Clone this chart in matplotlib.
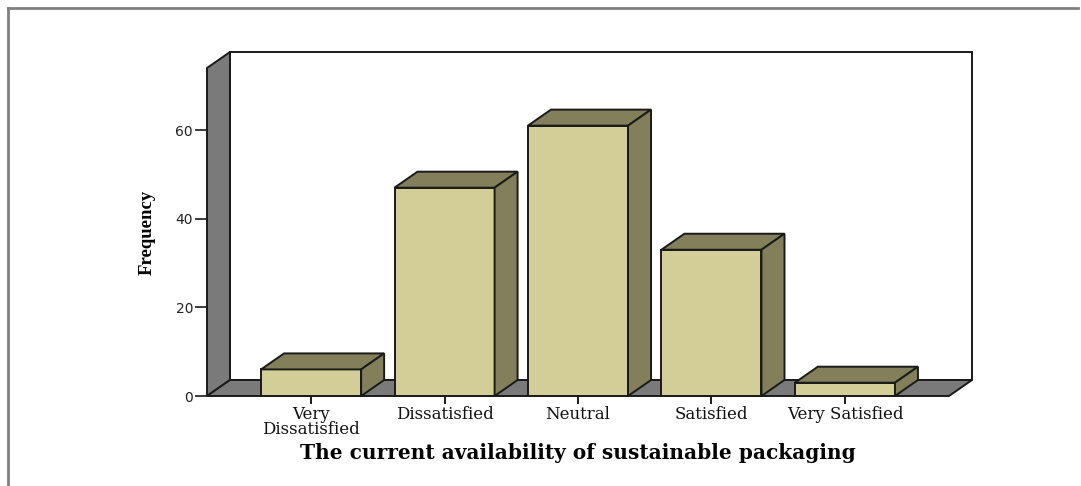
import matplotlib
matplotlib.use("Agg")
import matplotlib.pyplot as plt
from matplotlib.patches import Polygon
from matplotlib.lines import Line2D

# survey answers
categories = ["Very\nDissatisfied", "Dissatisfied", "Neutral", "Satisfied", "Very Satisfied"]
frequency = [6, 47, 61, 33, 3]
yticks = [0, 20, 40, 60]

FRONT = "#d3ce97"
SHADE = "#837f5a"
WALL = "#7a7a7a"
EDGE = "#1a1a1a"

fig = plt.figure(figsize=(10.81, 4.86), dpi=100)
W, H = 1081, 486

# front plane of the 3D box, in pixels
left_px, right_px, base_px, top_px = 207, 949, 396, 68
ax = fig.add_axes([left_px / W, (H - base_px) / H,
                   (right_px - left_px) / W, (base_px - top_px) / H])
x0, x1 = -0.78, len(categories) - 1 + 0.78
ymax = 74
ax.set_xlim(x0, x1)
ax.set_ylim(0, ymax)

# depth offset of the 3D effect, converted from pixels to data units
dx = 23 * (x1 - x0) / (right_px - left_px)
dy = 16 * ymax / (base_px - top_px)


def poly(pts, fc, z):
    ax.add_patch(Polygon(pts, closed=True, facecolor=fc, edgecolor=EDGE,
                         linewidth=1.4, joinstyle="miter", clip_on=False, zorder=z))


# back wall, side wall and floor
poly([(x0 + dx, dy), (x1 + dx, dy), (x1 + dx, ymax + dy), (x0 + dx, ymax + dy)], "white", 1)
poly([(x0, 0), (x0, ymax), (x0 + dx, ymax + dy), (x0 + dx, dy)], WALL, 2)
poly([(x0, 0), (x1, 0), (x1 + dx, dy), (x0 + dx, dy)], WALL, 2)

bw = 0.75
for i, v in enumerate(frequency):
    a, b = i - bw / 2, i + bw / 2
    poly([(a, 0), (b, 0), (b, v), (a, v)], FRONT, 3)
    poly([(a, v), (b, v), (b + dx, v + dy), (a + dx, v + dy)], SHADE, 3)
    poly([(b, 0), (b + dx, dy), (b + dx, v + dy), (b, v)], SHADE, 3)

for s in ax.spines.values():
    s.set_visible(False)

ax.set_yticks(yticks)
ax.set_yticklabels([str(t) for t in yticks], fontfamily="DejaVu Sans", fontsize=10, color="#222222")
ax.tick_params(axis="y", length=9, width=1.2, pad=1, color=EDGE)

ax.set_xticks(range(len(categories)))
ax.set_xticklabels(categories, fontfamily="DejaVu Serif", fontsize=12,
                   color="#111111", linespacing=0.9)
ax.tick_params(axis="x", length=6, width=1.4, pad=1, color=EDGE)

ax.set_xlabel("The current availability of sustainable packaging",
              fontfamily="DejaVu Serif", fontweight="bold", fontsize=14.5, labelpad=3)
ax.set_ylabel("Frequency", fontfamily="Liberation Serif", fontweight="bold",
              fontsize=13.5, labelpad=14)

# thin grey frame around the chart
fig.add_artist(Line2D([8 / W, 1078 / W], [1 - 8 / H, 1 - 8 / H], color="#808080", linewidth=2))
fig.add_artist(Line2D([8 / W, 8 / W], [0, 1 - 8 / H], color="#808080", linewidth=2))

fig.savefig("out.png", dpi=100)
